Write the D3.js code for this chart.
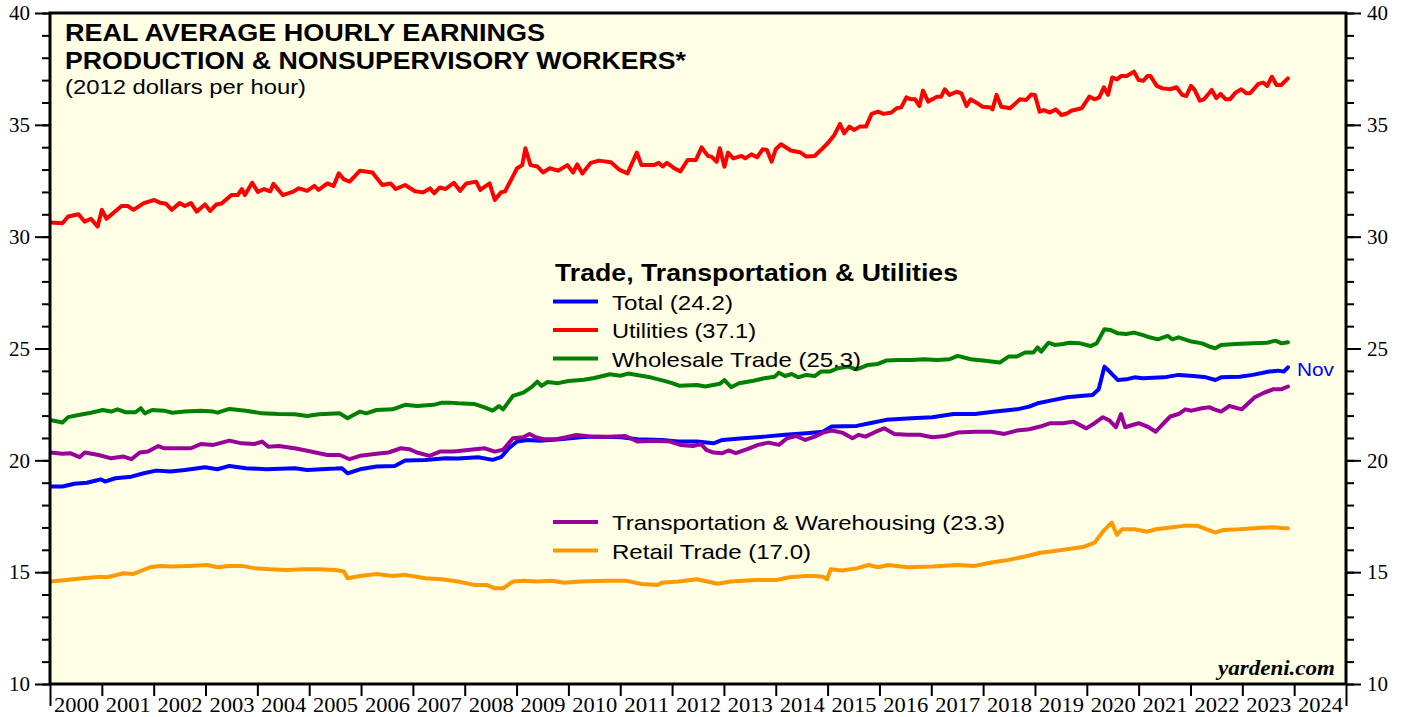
<!DOCTYPE html>
<html><head><meta charset="utf-8">
<script src="https://cdn.jsdelivr.net/npm/d3@7"></script>
<style>body{margin:0;background:#fff} svg{display:block}</style>
</head><body><svg id="c" width="1405" height="717"></svg>
<script>
// ---- data: [decimal year, 2012 dollars per hour] ----
const totalPts = [[2000.00,18.83],[2000.24,18.83],[2000.47,18.95],[2000.71,19.0],[2000.87,19.09],[2000.98,19.15],[2001.06,19.05],[2001.26,19.2],[2001.57,19.27],[2001.81,19.42],[2002.05,19.54],[2002.32,19.5],[2002.60,19.57],[2002.99,19.69],[2003.23,19.6],[2003.46,19.75],[2003.78,19.65],[2004.17,19.6],[2004.72,19.65],[2004.96,19.57],[2005.51,19.63],[2005.63,19.65],[2005.74,19.42],[2005.98,19.6],[2006.30,19.72],[2006.65,19.75],[2006.85,19.99],[2007.24,20.02],[2007.63,20.09],[2007.87,20.08],[2008.26,20.14],[2008.54,20.02],[2008.70,20.14],[2008.85,20.54],[2009.01,20.84],[2009.21,20.91],[2009.44,20.88],[2009.84,20.94],[2010.23,21.03],[2010.47,21.06],[2011.02,21.03],[2011.33,20.94],[2011.81,20.91],[2012.12,20.84],[2012.48,20.84],[2012.80,20.76],[2012.97,20.91],[2013.37,20.99],[2013.78,21.06],[2014.18,21.14],[2014.59,21.21],[2014.91,21.28],[2015.08,21.51],[2015.56,21.54],[2015.81,21.66],[2016.13,21.81],[2016.62,21.88],[2017.02,21.93],[2017.43,22.07],[2017.84,22.07],[2018.24,22.18],[2018.65,22.28],[2018.89,22.4],[2019.05,22.55],[2019.30,22.67],[2019.62,22.82],[2019.87,22.88],[2020.11,22.92],[2020.23,23.18],[2020.34,24.19],[2020.44,23.97],[2020.60,23.59],[2020.76,23.62],[2020.92,23.71],[2021.08,23.67],[2021.49,23.71],[2021.77,23.82],[2022.06,23.77],[2022.30,23.71],[2022.48,23.59],[2022.59,23.71],[2022.95,23.74],[2023.20,23.82],[2023.52,23.97],[2023.68,24.01],[2023.80,23.97],[2023.88,24.16]];

const utilitiesPts = [[2000.00,30.63],[2000.24,30.6],[2000.35,30.9],[2000.55,31.0],[2000.67,30.67],[2000.79,30.8],[2000.92,30.45],[2001.00,31.2],[2001.09,30.8],[2001.38,31.37],[2001.50,31.37],[2001.61,31.2],[2001.81,31.5],[2002.01,31.64],[2002.12,31.52],[2002.24,31.47],[2002.35,31.2],[2002.50,31.5],[2002.60,31.37],[2002.72,31.5],[2002.83,31.12],[2002.99,31.44],[2003.09,31.15],[2003.21,31.44],[2003.31,31.48],[2003.50,31.86],[2003.62,31.86],[2003.70,32.13],[2003.76,31.86],[2003.90,32.41],[2004.01,32.0],[2004.13,32.13],[2004.25,32.03],[2004.31,32.36],[2004.49,31.86],[2004.68,32.0],[2004.80,32.16],[2004.96,32.05],[2005.10,32.27],[2005.18,32.09],[2005.35,32.38],[2005.47,32.27],[2005.57,32.83],[2005.67,32.56],[2005.78,32.46],[2005.98,32.95],[2006.22,32.87],[2006.41,32.31],[2006.57,32.38],[2006.67,32.13],[2006.85,32.31],[2007.04,32.03],[2007.20,31.98],[2007.33,32.16],[2007.41,31.94],[2007.52,32.2],[2007.63,32.13],[2007.79,32.41],[2007.91,32.05],[2008.03,32.38],[2008.22,32.46],[2008.30,32.09],[2008.48,32.38],[2008.58,31.64],[2008.70,31.98],[2008.78,32.03],[2009.01,33.06],[2009.11,33.2],[2009.17,33.95],[2009.27,33.2],[2009.40,33.14],[2009.51,32.87],[2009.64,33.06],[2009.80,32.95],[2009.98,33.2],[2010.09,32.87],[2010.17,33.23],[2010.27,32.82],[2010.43,33.3],[2010.59,33.4],[2010.82,33.33],[2010.98,33.0],[2011.14,32.83],[2011.32,33.76],[2011.41,33.2],[2011.65,33.2],[2011.74,33.3],[2011.82,33.14],[2011.90,33.3],[2012.04,33.06],[2012.16,32.92],[2012.30,33.43],[2012.46,33.43],[2012.57,33.99],[2012.69,33.61],[2012.76,33.58],[2012.86,33.35],[2012.92,33.95],[2013.01,33.13],[2013.08,33.76],[2013.18,33.5],[2013.34,33.61],[2013.41,33.5],[2013.53,33.68],[2013.64,33.55],[2013.75,33.91],[2013.83,33.88],[2013.92,33.35],[2014.0,33.91],[2014.10,34.13],[2014.29,33.85],[2014.48,33.76],[2014.59,33.58],[2014.75,33.61],[2014.86,33.85],[2015.01,34.2],[2015.13,34.55],[2015.24,35.04],[2015.32,34.62],[2015.42,34.92],[2015.51,34.77],[2015.62,34.92],[2015.74,34.92],[2015.85,35.49],[2015.97,35.59],[2016.08,35.49],[2016.23,35.55],[2016.33,35.74],[2016.42,35.78],[2016.52,36.23],[2016.61,36.14],[2016.69,36.14],[2016.77,35.84],[2016.84,36.53],[2016.94,36.04],[2017.11,36.26],[2017.19,36.26],[2017.26,36.59],[2017.35,36.34],[2017.49,36.48],[2017.58,36.41],[2017.68,35.84],[2017.76,36.14],[2017.87,35.99],[2017.99,35.81],[2018.14,35.78],[2018.18,35.69],[2018.26,36.34],[2018.35,35.81],[2018.52,35.74],[2018.71,36.14],[2018.83,36.11],[2018.93,36.36],[2019.0,36.33],[2019.09,35.59],[2019.17,35.66],[2019.29,35.55],[2019.40,35.69],[2019.51,35.44],[2019.63,35.52],[2019.70,35.63],[2019.90,35.74],[2020.05,36.26],[2020.15,36.14],[2020.24,36.23],[2020.33,36.68],[2020.41,36.34],[2020.49,37.12],[2020.58,37.03],[2020.66,37.18],[2020.77,37.18],[2020.91,37.38],[2021.0,37.0],[2021.09,36.97],[2021.17,37.18],[2021.23,37.18],[2021.35,36.74],[2021.46,36.63],[2021.61,36.59],[2021.73,36.68],[2021.84,36.34],[2021.92,36.29],[2022.01,36.74],[2022.08,36.56],[2022.18,36.08],[2022.26,36.14],[2022.41,36.56],[2022.50,36.19],[2022.58,36.38],[2022.68,36.14],[2022.76,36.14],[2022.87,36.44],[2022.98,36.59],[2023.08,36.41],[2023.15,36.41],[2023.31,36.83],[2023.40,36.89],[2023.48,36.74],[2023.57,37.15],[2023.66,36.78],[2023.75,36.78],[2023.88,37.08]];

const wholesalePts = [[2000.00,21.81],[2000.24,21.69],[2000.35,21.93],[2000.55,22.03],[2000.79,22.13],[2001.02,22.25],[2001.18,22.18],[2001.30,22.28],[2001.46,22.15],[2001.65,22.15],[2001.75,22.33],[2001.83,22.1],[2001.97,22.25],[2002.20,22.22],[2002.36,22.13],[2002.60,22.18],[2002.91,22.22],[2003.15,22.18],[2003.23,22.13],[2003.46,22.30],[2003.78,22.22],[2004.09,22.10],[2004.41,22.07],[2004.72,22.06],[2004.96,21.98],[2005.19,22.06],[2005.59,22.10],[2005.74,21.88],[2005.98,22.18],[2006.10,22.10],[2006.30,22.25],[2006.61,22.28],[2006.85,22.48],[2007.08,22.43],[2007.40,22.48],[2007.56,22.58],[2007.71,22.58],[2007.87,22.55],[2008.18,22.52],[2008.38,22.37],[2008.54,22.22],[2008.66,22.43],[2008.74,22.28],[2008.93,22.88],[2009.13,23.03],[2009.29,23.27],[2009.40,23.52],[2009.48,23.33],[2009.6,23.5],[2009.8,23.45],[2010.0,23.55],[2010.3,23.6],[2010.5,23.68],[2010.8,23.85],[2011.0,23.78],[2011.15,23.88],[2011.35,23.8],[2011.6,23.7],[2011.85,23.55],[2012.0,23.45],[2012.15,23.33],[2012.48,23.37],[2012.64,23.3],[2012.92,23.42],[2013.01,23.59],[2013.14,23.27],[2013.29,23.45],[2013.57,23.56],[2013.78,23.67],[2013.98,23.74],[2014.06,23.92],[2014.18,23.77],[2014.31,23.86],[2014.43,23.71],[2014.59,23.82],[2014.75,23.77],[2014.87,23.97],[2015.04,23.97],[2015.20,24.12],[2015.40,24.19],[2015.56,24.07],[2015.77,24.26],[2015.97,24.31],[2016.13,24.46],[2016.38,24.49],[2016.62,24.49],[2016.86,24.52],[2017.11,24.49],[2017.35,24.52],[2017.51,24.67],[2017.76,24.52],[2018.0,24.46],[2018.32,24.37],[2018.49,24.64],[2018.65,24.64],[2018.81,24.82],[2018.97,24.82],[2019.05,25.05],[2019.12,24.86],[2019.26,25.26],[2019.38,25.16],[2019.54,25.2],[2019.66,25.26],[2019.87,25.23],[2020.07,25.11],[2020.19,25.23],[2020.34,25.86],[2020.45,25.83],[2020.60,25.68],[2020.76,25.65],[2020.91,25.71],[2021.07,25.61],[2021.21,25.5],[2021.37,25.41],[2021.56,25.56],[2021.65,25.41],[2021.77,25.5],[2022.02,25.31],[2022.22,25.23],[2022.37,25.08],[2022.48,25.01],[2022.59,25.16],[2022.87,25.2],[2023.20,25.23],[2023.48,25.26],[2023.64,25.35],[2023.76,25.23],[2023.88,25.28]];

const transportPts = [[2000.00,20.35],[2000.24,20.29],[2000.39,20.32],[2000.57,20.14],[2000.67,20.35],[2000.94,20.24],[2001.18,20.09],[2001.42,20.17],[2001.57,20.05],[2001.73,20.35],[2001.89,20.39],[2002.09,20.64],[2002.20,20.54],[2002.52,20.54],[2002.72,20.54],[2002.91,20.73],[2003.15,20.69],[2003.46,20.88],[2003.70,20.76],[2003.94,20.73],[2004.09,20.84],[2004.21,20.61],[2004.41,20.64],[2004.72,20.54],[2004.96,20.43],[2005.35,20.24],[2005.59,20.24],[2005.78,20.05],[2005.98,20.2],[2006.30,20.29],[2006.53,20.35],[2006.77,20.54],[2006.93,20.5],[2007.08,20.35],[2007.32,20.2],[2007.52,20.39],[2007.79,20.39],[2008.11,20.47],[2008.38,20.54],[2008.58,20.39],[2008.74,20.47],[2008.93,20.99],[2009.13,21.03],[2009.25,21.18],[2009.37,21.03],[2009.52,20.94],[2009.76,20.94],[2009.96,21.03],[2010.15,21.13],[2010.47,21.06],[2010.78,21.06],[2011.10,21.09],[2011.33,20.84],[2011.65,20.88],[2011.96,20.84],[2012.16,20.69],[2012.40,20.64],[2012.56,20.73],[2012.66,20.47],[2012.80,20.35],[2012.97,20.32],[2013.09,20.44],[2013.23,20.32],[2013.45,20.5],[2013.66,20.69],[2013.86,20.79],[2014.06,20.69],[2014.22,20.99],[2014.39,21.09],[2014.57,20.91],[2014.75,21.06],[2014.91,21.24],[2015.08,21.33],[2015.28,21.24],[2015.48,20.99],[2015.60,21.14],[2015.73,21.06],[2015.93,21.28],[2016.09,21.43],[2016.29,21.18],[2016.54,21.14],[2016.78,21.14],[2017.02,21.03],[2017.27,21.09],[2017.51,21.24],[2017.84,21.28],[2018.16,21.28],[2018.41,21.18],[2018.65,21.33],[2018.89,21.39],[2019.10,21.51],[2019.30,21.66],[2019.54,21.66],[2019.74,21.73],[2019.99,21.43],[2020.15,21.66],[2020.31,21.93],[2020.44,21.78],[2020.56,21.48],[2020.66,22.07],[2020.74,21.48],[2020.88,21.58],[2021.00,21.66],[2021.17,21.51],[2021.33,21.28],[2021.45,21.58],[2021.61,21.96],[2021.77,22.07],[2021.90,22.28],[2022.02,22.22],[2022.22,22.33],[2022.37,22.37],[2022.46,22.28],[2022.59,22.18],[2022.75,22.43],[2022.99,22.28],[2023.24,22.82],[2023.40,23.0],[2023.60,23.18],[2023.76,23.18],[2023.88,23.3]];

const retailPts = [[2000.00,14.58],[2000.31,14.65],[2000.63,14.73],[2000.98,14.8],[2001.10,14.77],[2001.42,14.95],[2001.61,14.92],[2001.93,15.22],[2002.12,15.28],[2002.36,15.25],[2002.68,15.28],[2003.03,15.32],[2003.23,15.22],[2003.46,15.28],[2003.70,15.28],[2003.94,15.18],[2004.25,15.13],[2004.56,15.1],[2004.88,15.13],[2005.19,15.13],[2005.51,15.1],[2005.67,15.03],[2005.74,14.73],[2005.98,14.83],[2006.30,14.92],[2006.61,14.83],[2006.85,14.88],[2007.24,14.73],[2007.56,14.68],[2007.87,14.58],[2008.18,14.43],[2008.42,14.43],[2008.58,14.28],[2008.74,14.28],[2008.93,14.58],[2009.13,14.62],[2009.40,14.58],[2009.68,14.62],[2009.92,14.53],[2010.23,14.58],[2010.70,14.62],[2011.10,14.62],[2011.41,14.47],[2011.73,14.43],[2011.80,14.53],[2012.12,14.58],[2012.48,14.68],[2012.88,14.48],[2013.13,14.58],[2013.61,14.65],[2014.02,14.65],[2014.26,14.77],[2014.59,14.83],[2014.75,14.83],[2014.91,14.8],[2014.95,14.73],[2014.99,14.68],[2015.06,15.13],[2015.28,15.07],[2015.56,15.17],[2015.79,15.32],[2015.97,15.22],[2016.17,15.32],[2016.54,15.22],[2017.02,15.25],[2017.51,15.32],[2017.84,15.28],[2018.16,15.43],[2018.49,15.55],[2018.81,15.7],[2019.10,15.87],[2019.30,15.92],[2019.62,16.02],[2019.95,16.14],[2020.15,16.32],[2020.31,16.81],[2020.48,17.22],[2020.58,16.67],[2020.68,16.92],[2020.92,16.92],[2021.17,16.81],[2021.33,16.92],[2021.65,17.01],[2021.86,17.07],[2022.14,17.07],[2022.30,16.92],[2022.48,16.77],[2022.63,16.89],[2022.95,16.92],[2023.28,16.97],[2023.60,17.01],[2023.76,16.97],[2023.88,16.96]];

const seriesNames  = ["Total (24.2)", "Utilities (37.1)", "Wholesale Trade (25.3)", "Transportation & Warehousing (23.3)", "Retail Trade (17.0)"];
const seriesColors = ["#0000FF", "#FF0000", "#008000", "#990099", "#FF9900"];
const seriesData   = [totalPts, utilitiesPts, wholesalePts, transportPts, retailPts];
const yearTicks  = d3.range(2000, 2026);
const yearLabels = d3.range(2000, 2025);
const yTicksMajor = [10, 15, 20, 25, 30, 35, 40];
const yTicksMinor = d3.range(10, 41);

// ---- layout ----
const L = 50, T = 13, R = 1346, B = 684;
const SANS = "'Liberation Sans', Arial, Helvetica, sans-serif";
const SERIF = "'Liberation Serif', 'Times New Roman', serif";
const x = d3.scaleLinear().domain([2000, 2025]).range([L, R]);
const y = d3.scaleLinear().domain([10, 40]).range([B, T]);

const svg = d3.select("#c");
svg.append("rect").attr("width", 1405).attr("height", 717).attr("fill", "#fff");
svg.append("rect").attr("x", L).attr("y", T).attr("width", R - L).attr("height", B - T).attr("fill", "#FFFFE5");

svg.append("clipPath").attr("id", "clip").append("rect")
  .attr("x", L).attr("y", T).attr("width", R - L).attr("height", B - T);

const line = d3.line().x(d => x(d[0])).y(d => y(d[1]));
const g = svg.append("g").attr("clip-path", "url(#clip)");
seriesData.forEach((pts, i) => {
  g.append("path").datum(pts).attr("d", line)
    .attr("fill", "none").attr("stroke", seriesColors[i])
    .attr("stroke-width", 4).attr("stroke-linejoin", "round").attr("stroke-linecap", "round");
});

// axes
function styleAxis(sel) {
  sel.select(".domain").remove();
  sel.selectAll(".tick line").attr("stroke", "#000").attr("stroke-width", 2);
  sel.selectAll("text").attr("font-family", SERIF).attr("font-size", 21).attr("fill", "#000");
}
svg.append("g").attr("transform", `translate(${L},0)`)
  .call(d3.axisLeft(y).tickValues(yTicksMinor).tickSize(8).tickFormat("")).call(styleAxis);
svg.append("g").attr("transform", `translate(${L},0)`)
  .call(d3.axisLeft(y).tickValues(yTicksMajor).tickSize(15).tickPadding(5).tickFormat(d3.format("d"))).call(styleAxis);
svg.append("g").attr("transform", `translate(${R},0)`)
  .call(d3.axisRight(y).tickValues(yTicksMinor).tickSize(8).tickFormat("")).call(styleAxis);
svg.append("g").attr("transform", `translate(${R},0)`)
  .call(d3.axisRight(y).tickValues(yTicksMajor).tickSize(15).tickPadding(6).tickFormat(d3.format("d"))).call(styleAxis);

const xa = svg.append("g").attr("transform", `translate(0,${B})`)
  .call(d3.axisBottom(x).tickValues(yearTicks).tickSize(12).tickFormat("")).call(styleAxis);
xa.selectAll(".tick line").filter(d => d === 2000 || d === 2025).attr("y2", 22);
const xl = svg.append("g").attr("transform", `translate(0,${B})`)
  .call(d3.axisBottom(x).tickValues(yearLabels.map(v => v + 0.5)).tickSize(0).tickPadding(13).tickFormat(d => String(Math.floor(d))))
  .call(styleAxis);
xl.selectAll("text").attr("textLength", 45).attr("lengthAdjust", "spacingAndGlyphs");

// border
svg.append("rect").attr("x", L).attr("y", T).attr("width", R - L).attr("height", B - T)
  .attr("fill", "none").attr("stroke", "#000").attr("stroke-width", 3);

// titles
function txt(s, px, py, size, weight, len, extra) {
  const t = svg.append("text").attr("x", px).attr("y", py).text(s)
    .attr("font-family", SANS).attr("font-size", size).attr("font-weight", weight).attr("fill", "#000");
  if (len) t.attr("textLength", len).attr("lengthAdjust", "spacingAndGlyphs");
  return t;
}
txt("REAL AVERAGE HOURLY EARNINGS", 65, 41, 23, "bold", 480);
txt("PRODUCTION & NONSUPERVISORY WORKERS*", 65, 69, 23, "bold", 621);
txt("(2012 dollars per hour)", 65, 94, 21, "normal", 241);

// legend
txt("Trade, Transportation & Utilities", 555, 281, 23, "bold", 403);
const legY = [301.5, 330, 358.5, 522, 550.5];
const legLen = [121, 144, 249, 393, 199];
seriesNames.forEach((nm, i) => {
  svg.append("line").attr("x1", 553).attr("x2", 598).attr("y1", legY[i]).attr("y2", legY[i])
    .attr("stroke", seriesColors[i]).attr("stroke-width", 4);
  txt(nm, 612, legY[i] + 8, 21, "normal", legLen[i]);
});

// Nov label
txt("Nov", 1297, 376, 19, "normal", 37).attr("fill", "#0000FF");

// source
svg.append("text").attr("x", 1335).attr("y", 675).attr("text-anchor", "end")
  .attr("font-family", SERIF).attr("font-size", 21).attr("font-weight", "bold").attr("font-style", "italic")
  .attr("textLength", 117).attr("lengthAdjust", "spacingAndGlyphs").text("yardeni.com");
</script></body></html>
